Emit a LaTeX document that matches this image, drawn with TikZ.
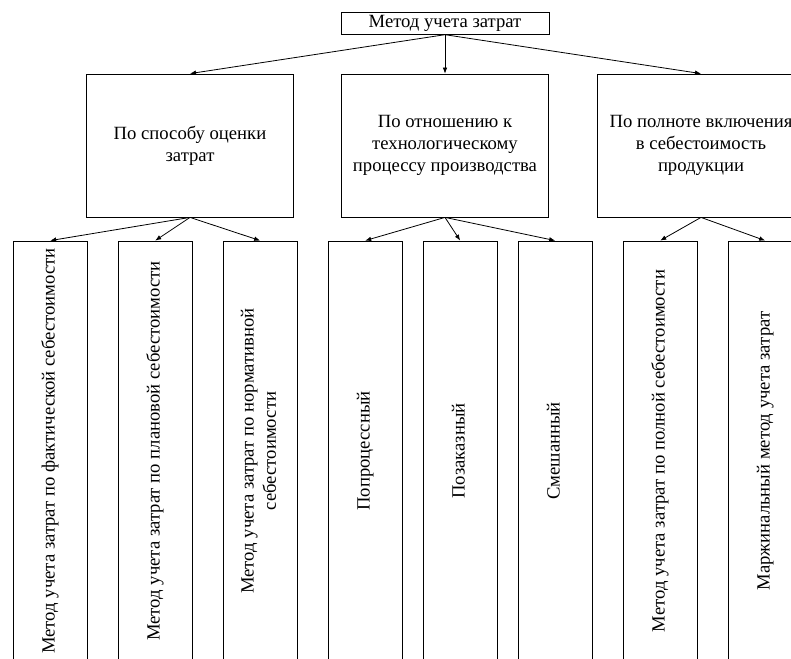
\documentclass[tikz,border=0pt]{standalone}
\usepackage{fontspec}
\setmainfont{Liberation Serif}
\usetikzlibrary{arrows.meta,positioning}

\newcommand{\vlabel}[1]{\rotatebox{90}{\begin{tabular}{@{}c@{}}#1\end{tabular}}}

\tikzset{
  box/.style={draw,line width=0.6pt,inner sep=2pt,align=center,
              font=\fontsize{14pt}{16.7pt}\selectfont},
  crit/.style={box,minimum width=155.25pt,minimum height=107.25pt},
  leaf/.style={box,minimum width=55.5pt,minimum height=315pt}
}

\begin{document}
\begin{tikzpicture}[>={Latex[length=4.5pt,width=3.5pt]},line width=0.6pt,on grid]
    \useasboundingbox (-333.75pt,17.625pt) rectangle (259.5pt,-476.625pt);

    \node[box,minimum width=156pt,minimum height=16pt] (method) {Метод учета затрат};

    \node[crit] (tech) [below=91.5pt of method] {По отношению к\\технологическому\\процессу производства};
    \node[crit] (eval) [left=191.25pt of tech]  {По способу оценки\\затрат};
    \node[crit] (full) [right=192pt of tech]    {По полноте включения\\в себестоимость\\продукции};

    \node[leaf] (fact)    [below left=229.125pt and 104.85pt of eval] {\vlabel{Метод учета затрат по фактической себестоимости}};
    \node[leaf] (plan)    [right=78.75pt of fact]  {\vlabel{Метод учета затрат по плановой себестоимости}};
    \node[leaf] (norm)    [right=78.75pt of plan]  {\vlabel{Метод учета затрат по нормативной\\себестоимости}};
    \node[leaf] (process) [right=78.75pt of norm]  {\vlabel{Попроцессный}};
    \node[leaf] (order)   [right=71.25pt of process] {\vlabel{Позаказный}};
    \node[leaf] (mixed)   [right=71.25pt of order] {\vlabel{Смешанный}};
    \node[leaf] (total)   [right=78.75pt of mixed] {\vlabel{Метод учета затрат по полной себестоимости}};
    \node[leaf] (margin)  [right=78.75pt of total] {\vlabel{Маржинальный метод учета затрат}};

    \path[->] (method.south) edge (eval.north)
              (method.south) edge (tech.north)
              (method.south) edge (full.north)
              (eval.south)   edge (fact.north)
              (eval.south)   edge (plan.north)
              (eval.south)   edge (norm.north)
              (tech.south)   edge (process.north)
              (tech.south)   edge (order.north)
              (tech.south)   edge (mixed.north)
              (full.south)   edge (total.north)
              (full.south)   edge (margin.north);
\end{tikzpicture}
\end{document}
